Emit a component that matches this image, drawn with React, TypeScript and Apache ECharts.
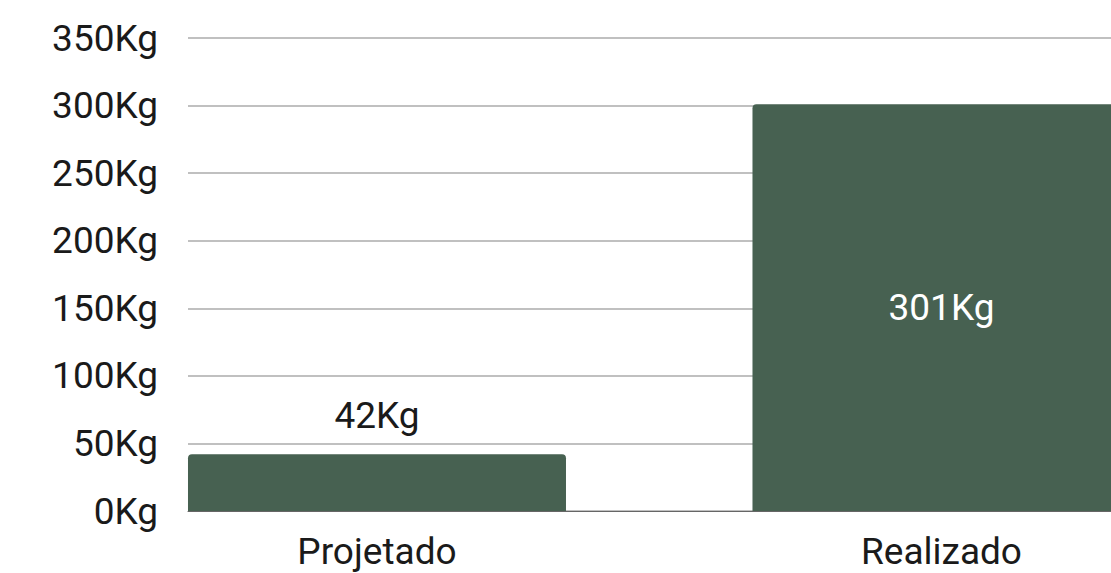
import React, { useEffect, useRef } from "react";
import * as echarts from "echarts";

const categories = ["Projetado", "Realizado"];
const values = [42, 301];
const yTicks = { min: 0, max: 350, interval: 50 };
const unit = "Kg";

export default function App() {
  const ref = useRef<HTMLDivElement>(null);
  useEffect(() => {
    if (!ref.current) return;
    const chart = echarts.init(ref.current, undefined, { renderer: "svg" });
    const font = "Roboto, 'Noto Sans', sans-serif";
    const textColor = "#1a1a1a";
    const fs = 37;
    // x range (in category-index units) visible in the plot area
    const xMin = -0.3348;
    const xMax = 1.3003;
    chart.setOption({
      animation: false,
      backgroundColor: "#ffffff",
      grid: { left: 188, right: 0, top: 38, height: 473, containLabel: false },
      xAxis: {
        type: "value",
        min: xMin,
        max: xMax,
        axisLine: { show: true, onZero: false, lineStyle: { color: "#666666", width: 1 } },
        axisTick: { show: false },
        axisLabel: {
          show: true,
          customValues: categories.map((_, i) => i),
          formatter: (v: number) => categories[Math.round(v)] ?? "",
          fontSize: fs,
          fontFamily: font,
          color: textColor,
          margin: 22,
        },
        splitLine: { show: false },
      },
      yAxis: {
        type: "value",
        min: yTicks.min,
        max: yTicks.max,
        interval: yTicks.interval,
        axisLine: { show: false },
        axisTick: { show: false },
        axisLabel: {
          formatter: (v: number) => `${v}${unit}`,
          fontSize: fs,
          fontFamily: font,
          color: textColor,
          margin: 30,
        },
        splitLine: { show: true, lineStyle: { color: "#c0c0c0", width: 2 } },
      },
      series: [
        {
          type: "bar",
          barWidth: 378,
          data: values.map((v, i) => ({
            value: [i, v],
            label:
              i === 0
                ? { show: true, position: "top", distance: 20, color: textColor }
                : { show: true, position: "inside", color: "#ffffff" },
          })),
          itemStyle: { color: "#476151", borderRadius: [4, 4, 0, 0] },
          label: {
            show: true,
            fontSize: fs,
            fontFamily: font,
            formatter: (p: any) => `${p.value[1]}${unit}`,
          },
          z: 3,
        },
      ],
    });
    return () => chart.dispose();
  }, []);
  return (
    <div
      ref={ref}
      style={{ position: "fixed", left: 0, top: 0, width: 1111, height: 573 }}
    />
  );
}
